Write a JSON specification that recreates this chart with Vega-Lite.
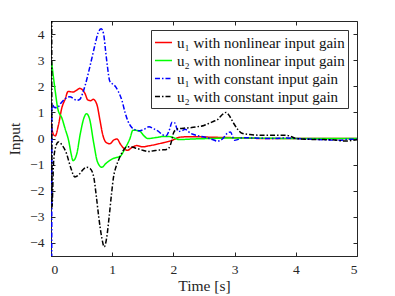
{
  "$schema": "https://vega.github.io/schema/vega-lite/v6.json",
  "width": 306,
  "height": 235,
  "autosize": {"type": "none"},
  "padding": {"left": 51, "top": 21, "right": 38, "bottom": 40},
  "background": "white",
  "config": {
    "font": "Liberation Serif",
    "view": {"stroke": "#262626", "strokeWidth": 1},
    "axis": {
      "labelFont": "Liberation Serif",
      "titleFont": "Liberation Serif",
      "labelFontSize": 13.5,
      "titleFontSize": 15.5,
      "titleFontWeight": "normal",
      "labelColor": "#262626",
      "titleColor": "#262626",
      "domainColor": "#262626",
      "tickColor": "#262626",
      "gridColor": "#e3e3e3",
      "gridWidth": 1,
      "tickSize": -4
    },
    "legend": {
      "labelFont": "Liberation Serif",
      "labelFontSize": 15,
      "labelColor": "#111",
      "symbolType": "stroke",
      "symbolStrokeWidth": 1.5,
      "symbolSize": 290,
      "strokeColor": "#333",
      "fillColor": "white",
      "padding": 3,
      "rowPadding": 0,
      "labelOffset": 4,
      "orient": "top-right",
      "offset": 9,
      "labelLimit": 300
    }
  },
  "data": {"values": [
    {"s":"u₁ with nonlinear input gain","t":0,"v":0.6},
    {"s":"u₁ with nonlinear input gain","t":0.04,"v":0.15},
    {"s":"u₁ with nonlinear input gain","t":0.07,"v":0.1},
    {"s":"u₁ with nonlinear input gain","t":0.12,"v":0.5},
    {"s":"u₁ with nonlinear input gain","t":0.18,"v":1.2},
    {"s":"u₁ with nonlinear input gain","t":0.23,"v":1.5},
    {"s":"u₁ with nonlinear input gain","t":0.28,"v":1.8},
    {"s":"u₁ with nonlinear input gain","t":0.36,"v":1.78},
    {"s":"u₁ with nonlinear input gain","t":0.42,"v":1.85},
    {"s":"u₁ with nonlinear input gain","t":0.47,"v":1.92},
    {"s":"u₁ with nonlinear input gain","t":0.52,"v":1.85},
    {"s":"u₁ with nonlinear input gain","t":0.56,"v":1.7},
    {"s":"u₁ with nonlinear input gain","t":0.6,"v":1.48},
    {"s":"u₁ with nonlinear input gain","t":0.65,"v":1.45},
    {"s":"u₁ with nonlinear input gain","t":0.69,"v":1.5},
    {"s":"u₁ with nonlinear input gain","t":0.75,"v":1.3},
    {"s":"u₁ with nonlinear input gain","t":0.8,"v":0.7},
    {"s":"u₁ with nonlinear input gain","t":0.84,"v":0.2},
    {"s":"u₁ with nonlinear input gain","t":0.9,"v":-0.15},
    {"s":"u₁ with nonlinear input gain","t":0.96,"v":-0.2},
    {"s":"u₁ with nonlinear input gain","t":1.03,"v":-0.05},
    {"s":"u₁ with nonlinear input gain","t":1.08,"v":-0.02},
    {"s":"u₁ with nonlinear input gain","t":1.13,"v":-0.2},
    {"s":"u₁ with nonlinear input gain","t":1.2,"v":-0.4},
    {"s":"u₁ with nonlinear input gain","t":1.25,"v":-0.45},
    {"s":"u₁ with nonlinear input gain","t":1.32,"v":-0.35},
    {"s":"u₁ with nonlinear input gain","t":1.4,"v":-0.27},
    {"s":"u₁ with nonlinear input gain","t":1.5,"v":-0.32},
    {"s":"u₁ with nonlinear input gain","t":1.6,"v":-0.28},
    {"s":"u₁ with nonlinear input gain","t":1.8,"v":-0.18},
    {"s":"u₁ with nonlinear input gain","t":2.0,"v":-0.05},
    {"s":"u₁ with nonlinear input gain","t":2.1,"v":0.05},
    {"s":"u₁ with nonlinear input gain","t":2.3,"v":0.07},
    {"s":"u₁ with nonlinear input gain","t":2.6,"v":0.05},
    {"s":"u₁ with nonlinear input gain","t":3.0,"v":0.03},
    {"s":"u₁ with nonlinear input gain","t":3.5,"v":0.0},
    {"s":"u₁ with nonlinear input gain","t":4.0,"v":0.0},
    {"s":"u₁ with nonlinear input gain","t":5.0,"v":0.0},

    {"s":"u₂ with nonlinear input gain","t":0.008,"v":2.95},
    {"s":"u₂ with nonlinear input gain","t":0.07,"v":1.8},
    {"s":"u₂ with nonlinear input gain","t":0.11,"v":1.15},
    {"s":"u₂ with nonlinear input gain","t":0.18,"v":0.77},
    {"s":"u₂ with nonlinear input gain","t":0.23,"v":0.38},
    {"s":"u₂ with nonlinear input gain","t":0.29,"v":-0.1},
    {"s":"u₂ with nonlinear input gain","t":0.33,"v":-0.6},
    {"s":"u₂ with nonlinear input gain","t":0.36,"v":-0.85},
    {"s":"u₂ with nonlinear input gain","t":0.42,"v":-0.6},
    {"s":"u₂ with nonlinear input gain","t":0.48,"v":0.2},
    {"s":"u₂ with nonlinear input gain","t":0.54,"v":0.8},
    {"s":"u₂ with nonlinear input gain","t":0.58,"v":0.95},
    {"s":"u₂ with nonlinear input gain","t":0.63,"v":0.75},
    {"s":"u₂ with nonlinear input gain","t":0.7,"v":-0.2},
    {"s":"u₂ with nonlinear input gain","t":0.76,"v":-0.9},
    {"s":"u₂ with nonlinear input gain","t":0.83,"v":-1.1},
    {"s":"u₂ with nonlinear input gain","t":0.9,"v":-0.95},
    {"s":"u₂ with nonlinear input gain","t":1.01,"v":-0.77},
    {"s":"u₂ with nonlinear input gain","t":1.13,"v":-0.68},
    {"s":"u₂ with nonlinear input gain","t":1.21,"v":-0.38},
    {"s":"u₂ with nonlinear input gain","t":1.29,"v":0.0},
    {"s":"u₂ with nonlinear input gain","t":1.34,"v":0.32},
    {"s":"u₂ with nonlinear input gain","t":1.45,"v":0.28},
    {"s":"u₂ with nonlinear input gain","t":1.52,"v":0.1},
    {"s":"u₂ with nonlinear input gain","t":1.58,"v":0.0},
    {"s":"u₂ with nonlinear input gain","t":1.7,"v":0.03},
    {"s":"u₂ with nonlinear input gain","t":1.85,"v":0.08},
    {"s":"u₂ with nonlinear input gain","t":1.95,"v":0.07},
    {"s":"u₂ with nonlinear input gain","t":2.1,"v":-0.04},
    {"s":"u₂ with nonlinear input gain","t":2.3,"v":-0.02},
    {"s":"u₂ with nonlinear input gain","t":2.6,"v":0.0},
    {"s":"u₂ with nonlinear input gain","t":3.0,"v":0.02},
    {"s":"u₂ with nonlinear input gain","t":4.0,"v":0.0},
    {"s":"u₂ with nonlinear input gain","t":5.0,"v":0.0},

    {"s":"u₁ with constant input gain","t":0.012,"v":-4.6},
    {"s":"u₁ with constant input gain","t":0.016,"v":1.35},
    {"s":"u₁ with constant input gain","t":0.05,"v":1.2},
    {"s":"u₁ with constant input gain","t":0.1,"v":1.18},
    {"s":"u₁ with constant input gain","t":0.16,"v":1.35},
    {"s":"u₁ with constant input gain","t":0.23,"v":1.52},
    {"s":"u₁ with constant input gain","t":0.31,"v":1.6},
    {"s":"u₁ with constant input gain","t":0.37,"v":1.52},
    {"s":"u₁ with constant input gain","t":0.42,"v":1.46},
    {"s":"u₁ with constant input gain","t":0.47,"v":1.5},
    {"s":"u₁ with constant input gain","t":0.52,"v":1.75},
    {"s":"u₁ with constant input gain","t":0.56,"v":2.05},
    {"s":"u₁ with constant input gain","t":0.62,"v":2.6},
    {"s":"u₁ with constant input gain","t":0.67,"v":3.1},
    {"s":"u₁ with constant input gain","t":0.72,"v":3.6},
    {"s":"u₁ with constant input gain","t":0.77,"v":4.05},
    {"s":"u₁ with constant input gain","t":0.82,"v":4.2},
    {"s":"u₁ with constant input gain","t":0.86,"v":4.0},
    {"s":"u₁ with constant input gain","t":0.89,"v":3.4},
    {"s":"u₁ with constant input gain","t":0.92,"v":2.8},
    {"s":"u₁ with constant input gain","t":0.96,"v":2.2},
    {"s":"u₁ with constant input gain","t":1.0,"v":2.1},
    {"s":"u₁ with constant input gain","t":1.05,"v":2.0},
    {"s":"u₁ with constant input gain","t":1.1,"v":1.8},
    {"s":"u₁ with constant input gain","t":1.16,"v":1.45},
    {"s":"u₁ with constant input gain","t":1.21,"v":1.0},
    {"s":"u₁ with constant input gain","t":1.26,"v":0.65},
    {"s":"u₁ with constant input gain","t":1.32,"v":0.42},
    {"s":"u₁ with constant input gain","t":1.38,"v":0.33},
    {"s":"u₁ with constant input gain","t":1.45,"v":0.3},
    {"s":"u₁ with constant input gain","t":1.52,"v":0.35},
    {"s":"u₁ with constant input gain","t":1.6,"v":0.45},
    {"s":"u₁ with constant input gain","t":1.67,"v":0.38},
    {"s":"u₁ with constant input gain","t":1.75,"v":0.28},
    {"s":"u₁ with constant input gain","t":1.82,"v":0.15},
    {"s":"u₁ with constant input gain","t":1.88,"v":0.1},
    {"s":"u₁ with constant input gain","t":1.93,"v":0.3},
    {"s":"u₁ with constant input gain","t":1.98,"v":0.62},
    {"s":"u₁ with constant input gain","t":2.02,"v":0.6},
    {"s":"u₁ with constant input gain","t":2.08,"v":0.27},
    {"s":"u₁ with constant input gain","t":2.14,"v":0.3},
    {"s":"u₁ with constant input gain","t":2.19,"v":0.35},
    {"s":"u₁ with constant input gain","t":2.28,"v":0.2},
    {"s":"u₁ with constant input gain","t":2.38,"v":0.12},
    {"s":"u₁ with constant input gain","t":2.55,"v":0.03},
    {"s":"u₁ with constant input gain","t":2.65,"v":-0.05},
    {"s":"u₁ with constant input gain","t":2.72,"v":-0.1},
    {"s":"u₁ with constant input gain","t":2.8,"v":-0.02},
    {"s":"u₁ with constant input gain","t":2.88,"v":0.2},
    {"s":"u₁ with constant input gain","t":2.93,"v":0.25},
    {"s":"u₁ with constant input gain","t":3.0,"v":-0.07},
    {"s":"u₁ with constant input gain","t":3.06,"v":-0.03},
    {"s":"u₁ with constant input gain","t":3.12,"v":0.03},
    {"s":"u₁ with constant input gain","t":3.3,"v":0.02},
    {"s":"u₁ with constant input gain","t":3.6,"v":0.0},
    {"s":"u₁ with constant input gain","t":3.85,"v":0.02},
    {"s":"u₁ with constant input gain","t":4.0,"v":0.0},
    {"s":"u₁ with constant input gain","t":4.2,"v":-0.02},
    {"s":"u₁ with constant input gain","t":4.5,"v":-0.05},
    {"s":"u₁ with constant input gain","t":4.72,"v":-0.07},
    {"s":"u₁ with constant input gain","t":4.85,"v":-0.03},
    {"s":"u₁ with constant input gain","t":5.0,"v":-0.03},

    {"s":"u₂ with constant input gain","t":0.012,"v":4.6},
    {"s":"u₂ with constant input gain","t":0.016,"v":-2.65},
    {"s":"u₂ with constant input gain","t":0.04,"v":-1.0},
    {"s":"u₂ with constant input gain","t":0.07,"v":-0.38},
    {"s":"u₂ with constant input gain","t":0.12,"v":-0.13},
    {"s":"u₂ with constant input gain","t":0.18,"v":-0.25},
    {"s":"u₂ with constant input gain","t":0.25,"v":-0.55},
    {"s":"u₂ with constant input gain","t":0.32,"v":-1.1},
    {"s":"u₂ with constant input gain","t":0.39,"v":-1.47},
    {"s":"u₂ with constant input gain","t":0.45,"v":-1.4},
    {"s":"u₂ with constant input gain","t":0.52,"v":-1.2},
    {"s":"u₂ with constant input gain","t":0.58,"v":-1.1},
    {"s":"u₂ with constant input gain","t":0.64,"v":-1.15},
    {"s":"u₂ with constant input gain","t":0.7,"v":-1.5},
    {"s":"u₂ with constant input gain","t":0.74,"v":-2.2},
    {"s":"u₂ with constant input gain","t":0.78,"v":-3.0},
    {"s":"u₂ with constant input gain","t":0.83,"v":-3.8},
    {"s":"u₂ with constant input gain","t":0.87,"v":-4.15},
    {"s":"u₂ with constant input gain","t":0.91,"v":-3.8},
    {"s":"u₂ with constant input gain","t":0.95,"v":-3.0},
    {"s":"u₂ with constant input gain","t":0.99,"v":-2.1},
    {"s":"u₂ with constant input gain","t":1.02,"v":-1.5},
    {"s":"u₂ with constant input gain","t":1.06,"v":-1.1},
    {"s":"u₂ with constant input gain","t":1.1,"v":-0.85},
    {"s":"u₂ with constant input gain","t":1.17,"v":-0.5},
    {"s":"u₂ with constant input gain","t":1.24,"v":-0.32},
    {"s":"u₂ with constant input gain","t":1.32,"v":-0.33},
    {"s":"u₂ with constant input gain","t":1.4,"v":-0.38},
    {"s":"u₂ with constant input gain","t":1.5,"v":-0.45},
    {"s":"u₂ with constant input gain","t":1.59,"v":-0.5},
    {"s":"u₂ with constant input gain","t":1.68,"v":-0.47},
    {"s":"u₂ with constant input gain","t":1.78,"v":-0.44},
    {"s":"u₂ with constant input gain","t":1.87,"v":-0.43},
    {"s":"u₂ with constant input gain","t":1.93,"v":-0.35},
    {"s":"u₂ with constant input gain","t":1.97,"v":-0.1},
    {"s":"u₂ with constant input gain","t":2.0,"v":0.2},
    {"s":"u₂ with constant input gain","t":2.05,"v":0.35},
    {"s":"u₂ with constant input gain","t":2.1,"v":0.38},
    {"s":"u₂ with constant input gain","t":2.2,"v":0.4},
    {"s":"u₂ with constant input gain","t":2.3,"v":0.42},
    {"s":"u₂ with constant input gain","t":2.38,"v":0.45},
    {"s":"u₂ with constant input gain","t":2.5,"v":0.5},
    {"s":"u₂ with constant input gain","t":2.6,"v":0.6},
    {"s":"u₂ with constant input gain","t":2.66,"v":0.66},
    {"s":"u₂ with constant input gain","t":2.72,"v":0.72},
    {"s":"u₂ with constant input gain","t":2.8,"v":0.92},
    {"s":"u₂ with constant input gain","t":2.86,"v":1.0},
    {"s":"u₂ with constant input gain","t":2.92,"v":0.85},
    {"s":"u₂ with constant input gain","t":2.98,"v":0.6},
    {"s":"u₂ with constant input gain","t":3.05,"v":0.35},
    {"s":"u₂ with constant input gain","t":3.12,"v":0.2},
    {"s":"u₂ with constant input gain","t":3.25,"v":0.15},
    {"s":"u₂ with constant input gain","t":3.5,"v":0.12},
    {"s":"u₂ with constant input gain","t":3.7,"v":0.12},
    {"s":"u₂ with constant input gain","t":3.85,"v":0.12},
    {"s":"u₂ with constant input gain","t":3.95,"v":0.05},
    {"s":"u₂ with constant input gain","t":4.0,"v":0.0},
    {"s":"u₂ with constant input gain","t":4.2,"v":-0.03},
    {"s":"u₂ with constant input gain","t":4.4,"v":-0.04},
    {"s":"u₂ with constant input gain","t":4.6,"v":-0.05},
    {"s":"u₂ with constant input gain","t":4.8,"v":-0.1},
    {"s":"u₂ with constant input gain","t":4.9,"v":-0.08},
    {"s":"u₂ with constant input gain","t":5.0,"v":-0.05}
  ]},
  "layer": [
    {
      "mark": {"type": "line", "strokeOpacity": 0, "clip": true},
      "encoding": {
        "x": {"field": "t", "type": "quantitative", "scale": {"domain": [0, 5], "nice": false, "zero": false},
              "axis": {"orient": "top", "labels": false, "grid": false, "domain": false, "title": null, "values": [0,1,2,3,4,5]}},
        "y": {"field": "v", "type": "quantitative", "scale": {"domain": [-4.5, 4.5], "nice": false, "zero": false},
              "axis": {"orient": "right", "labels": false, "grid": false, "domain": false, "title": null, "values": [-4,-3,-2,-1,0,1,2,3,4]}},
        "detail": {"field": "s"}
      }
    },
    {
      "mark": {"type": "line", "clip": true, "strokeWidth": 1.5, "interpolate": "monotone"},
      "encoding": {
        "x": {"field": "t", "type": "quantitative", "scale": {"domain": [0, 5], "nice": false, "zero": false},
              "axis": {"orient": "bottom", "title": "Time [s]", "values": [0,1,2,3,4,5], "labelPadding": 10, "titlePadding": 3, "labelFont": "Liberation Serif", "titleFont": "Liberation Serif"}},
        "y": {"field": "v", "type": "quantitative", "scale": {"domain": [-4.5, 4.5], "nice": false, "zero": false},
              "axis": {"orient": "left", "title": "Input", "values": [-4,-3,-2,-1,0,1,2,3,4], "labelPadding": 11, "titlePadding": 7, "labelFont": "Liberation Serif", "titleFont": "Liberation Serif"}},
        "color": {"field": "s", "type": "nominal", "title": null,
          "scale": {"domain": ["u₁ with nonlinear input gain","u₂ with nonlinear input gain","u₁ with constant input gain","u₂ with constant input gain"],
                    "range": ["#ff0000","#00ff00","#0000ff","#000000"]}},
        "strokeDash": {"field": "s", "type": "nominal", "title": null,
          "scale": {"domain": ["u₁ with nonlinear input gain","u₂ with nonlinear input gain","u₁ with constant input gain","u₂ with constant input gain"],
                    "range": [[1,0],[1,0],[5,2,1.5,2],[5,2,1.5,2]]}}
      }
    }
  ],
  "resolve": {"axis": {"x": "independent", "y": "independent"}}
}
